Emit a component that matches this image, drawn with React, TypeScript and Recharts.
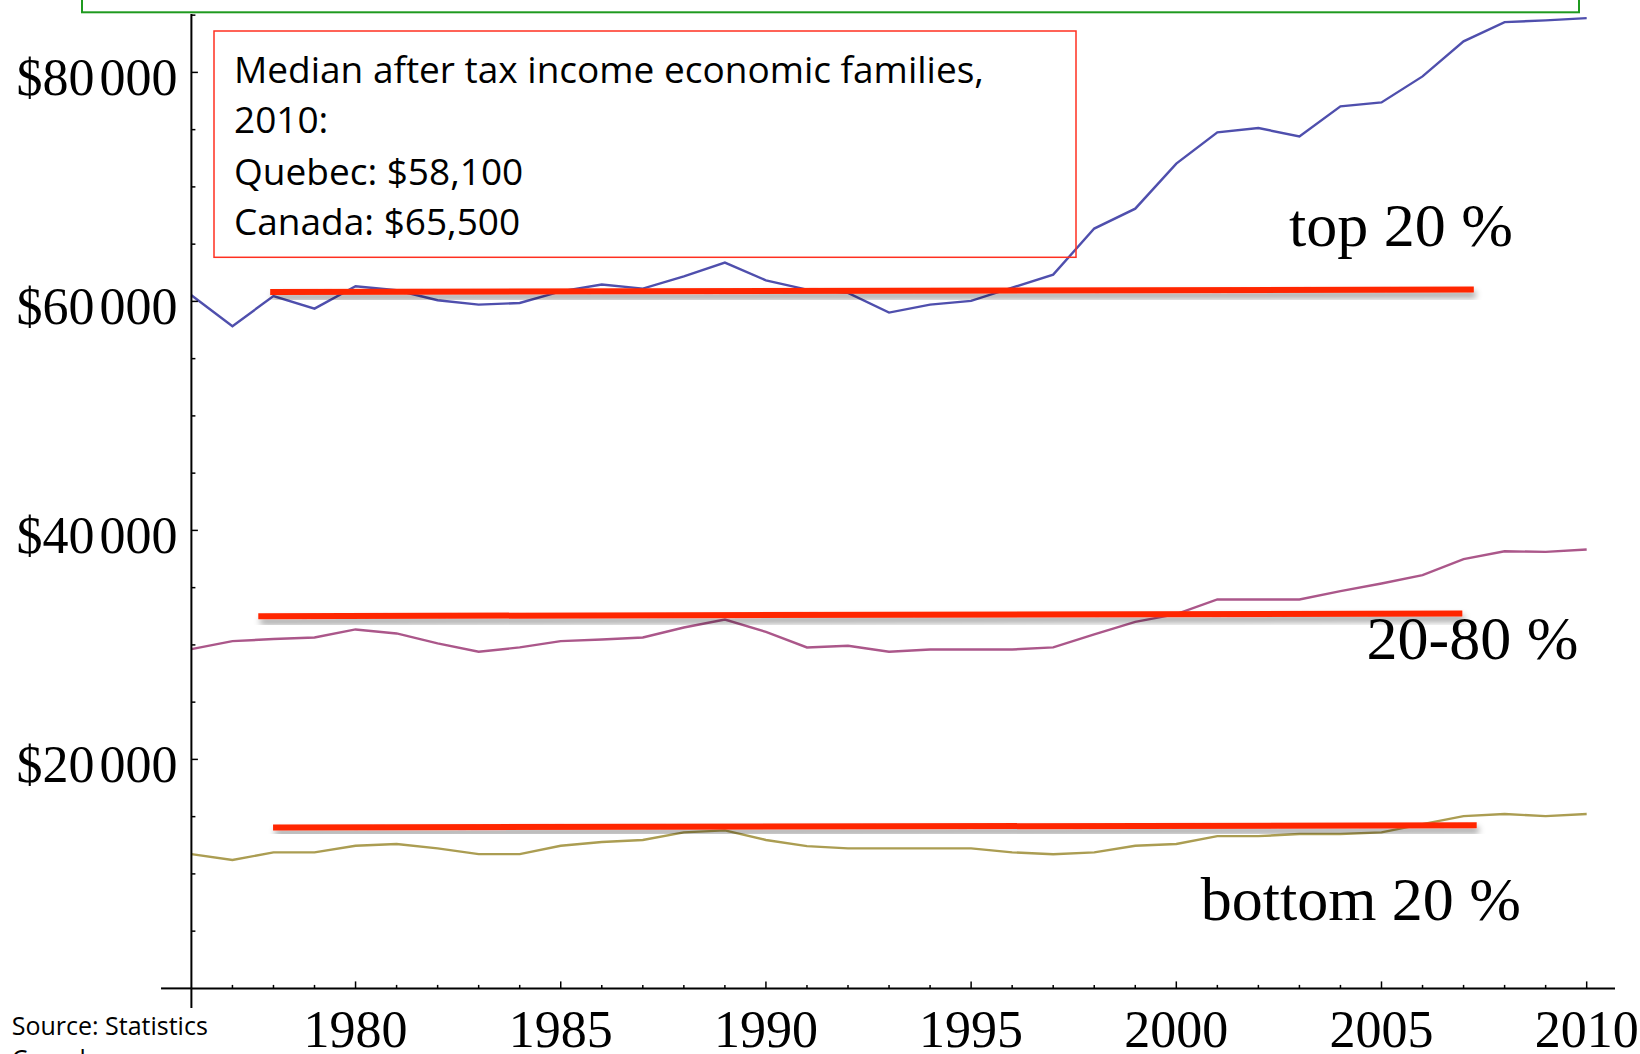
import { Line, LineChart, ReferenceLine, XAxis, YAxis } from 'recharts'

const years = [
  1976, 1977, 1978, 1979, 1980, 1981, 1982, 1983, 1984, 1985, 1986, 1987, 1988, 1989, 1990, 1991, 1992, 1993,
  1994, 1995, 1996, 1997, 1998, 1999, 2000, 2001, 2002, 2003, 2004, 2005, 2006, 2007, 2008, 2009, 2010,
]

// after tax income by quintile group, Quebec
const top20 = [
  60530, 57830, 60470, 59370, 61320, 60970, 60100, 59720, 59860, 60880, 61470, 61120, 62190, 63390, 61840, 61030,
  60740, 59020, 59720, 60040, 61200, 62340, 66360, 68100, 72030, 74760, 75140, 74410, 77030, 77380, 79650, 82710,
  84390, 84540, 84740,
]
const middle60 = [
  29630, 30330, 30510, 30650, 31350, 31000, 30130, 29400, 29780, 30330, 30470, 30650, 31520, 32220, 31140, 29780,
  29920, 29400, 29600, 29600, 29600, 29780, 30910, 32010, 32690, 33970, 33970, 33970, 34690, 35360, 36090, 37490,
  38180, 38120, 38330,
]
const bottom20 = [
  11730, 11210, 11880, 11880, 12460, 12610, 12230, 11730, 11730, 12460, 12780, 12960, 13630, 13800, 12960, 12430,
  12230, 12230, 12230, 12230, 11880, 11710, 11880, 12460, 12610, 13300, 13300, 13480, 13480, 13630, 14350, 15050,
  15230, 15050, 15230,
]

// hand drawn red "average" bars
const topBar = [
  { year: 1977.92, value: 60820 },
  { year: 2007.25, value: 61030 },
]
const middleBar = [
  { year: 1977.63, value: 32510 },
  { year: 2006.97, value: 32740 },
]
const bottomBar = [
  { year: 1977.99, value: 14060 },
  { year: 2007.32, value: 14240 },
]

const xTicks = [
  1977, 1978, 1979, 1980, 1981, 1982, 1983, 1984, 1985, 1986, 1987, 1988, 1989, 1990, 1991, 1992, 1993, 1994,
  1995, 1996, 1997, 1998, 1999, 2000, 2001, 2002, 2003, 2004, 2005, 2006, 2007, 2008, 2009, 2010,
]
const xLabels: Record<number, string> = { 1980: '1980', 1985: '1985', 1990: '1990', 1995: '1995', 2000: '2000', 2005: '2005', 2010: '2010' }
const yTicks = [5000, 10000, 15000, 20000, 25000, 30000, 35000, 40000, 45000, 50000, 55000, 60000, 65000, 70000, 75000, 80000, 85000]
const yLabels: Record<number, [string, string]> = {
  20000: ['$20', '000'],
  40000: ['$40', '000'],
  60000: ['$60', '000'],
  80000: ['$80', '000'],
}

const boxLines = ['Median after tax income economic families,', '2010:', 'Quebec: $58,100', 'Canada: $65,500']

const rows = years.map((year, i) => ({ year, top: top20[i], middle: middle60[i], bottom: bottom20[i] }))

const serif = '"Liberation Serif", "Times New Roman", serif'
const sans = '"Open Sans", "Noto Sans", sans-serif'

function XTick({ x, y, payload }: any) {
  const label = xLabels[payload.value]
  return (
    <g>
      <line x1={x} x2={x} y1={y} y2={y - (label ? 7 : 3.5)} stroke="#000" strokeWidth={1.5} />
      {label && (
        <text x={x} y={y + 59} textAnchor="middle" fontFamily={serif} fontSize={52} fill="#000">
          {label}
        </text>
      )}
    </g>
  )
}

function YTick({ x, y, payload }: any) {
  const label = yLabels[payload.value]
  return (
    <g>
      <line x1={x} x2={x + (label ? 6.5 : 4)} y1={y} y2={y} stroke="#000" strokeWidth={1.5} />
      {label && (
        <text x={x - 14} y={y + 22.5} textAnchor="end" fontFamily={serif} fontSize={52} fill="#000">
          {label[0]}
          <tspan dx={5}>{label[1]}</tspan>
        </text>
      )}
    </g>
  )
}

export default function App() {
  return (
    <div style={{ position: 'absolute', left: 0, top: 0, width: 1640, height: 1054, background: '#fff' }}>
      <LineChart width={1640} height={1054} data={rows} margin={{ top: 14, right: 25, bottom: 35.6, left: 131.4 }}>
        <XAxis
          dataKey="year"
          type="number"
          domain={[1976, 2010.69]}
          ticks={xTicks}
          interval={0}
          tick={<XTick />}
          tickLine={false}
          tickSize={0}
          tickMargin={0}
          height={30}
          axisLine={{ stroke: '#000', strokeWidth: 2 }}
        />
        <YAxis
          type="number"
          domain={[0, 85100]}
          ticks={yTicks}
          interval={0}
          tick={<YTick />}
          tickLine={false}
          tickSize={0}
          tickMargin={0}
          width={60}
          axisLine={{ stroke: '#000', strokeWidth: 2 }}
        />
        <ReferenceLine
          segment={[{ x: 1975.26, y: 0 }, { x: 1976, y: 0 }]}
          stroke="#000"
          strokeWidth={2}
          ifOverflow="visible"
        />
        <ReferenceLine
          segment={[{ x: 1976, y: 0 }, { x: 1976, y: -1711 }]}
          stroke="#000"
          strokeWidth={2}
          ifOverflow="visible"
        />
        <Line dataKey="top" stroke="#4f4fad" strokeWidth={2.4} dot={false} type="linear" isAnimationActive={false} />
        <Line dataKey="middle" stroke="#ab578a" strokeWidth={2.4} dot={false} type="linear" isAnimationActive={false} />
        <Line dataKey="bottom" stroke="#ab9d52" strokeWidth={2.4} dot={false} type="linear" isAnimationActive={false} />
        <Line data={topBar} dataKey="value" stroke="#ff2600" strokeWidth={6} dot={false} type="linear" filter="url(#barShadow)" isAnimationActive={false} />
        <Line data={middleBar} dataKey="value" stroke="#ff2600" strokeWidth={6} dot={false} type="linear" filter="url(#barShadow)" isAnimationActive={false} />
        <Line data={bottomBar} dataKey="value" stroke="#ff2600" strokeWidth={6} dot={false} type="linear" filter="url(#barShadow)" isAnimationActive={false} />
      </LineChart>

      <svg width={1640} height={1054} style={{ position: 'absolute', left: 0, top: 0, pointerEvents: 'none' }}>
        <defs>
          <filter id="barShadow" x="-5%" y="-300%" width="110%" height="700%">
            <feDropShadow dx={2} dy={5} stdDeviation={3} floodColor="#000" floodOpacity={0.4} />
          </filter>
        </defs>
        <rect x={82} y={-10} width={1497} height={22.3} fill="none" stroke="#1f9a1f" strokeWidth={2} />
        <rect x={214} y={31} width={862} height={226.3} fill="none" stroke="#ff3020" strokeWidth={1.5} />
        {boxLines.map((line, i) => (
          <text key={line} x={234} y={[83.3, 133.3, 185, 235][i]} fontFamily={sans} fontSize={37} fill="#000">
            {line}
          </text>
        ))}
        <text x={1289} y={246} fontFamily={serif} fontSize={62} fill="#000">
          top 20 %
        </text>
        <text x={1366.5} y={659.3} fontFamily={serif} fontSize={62} fill="#000">
          20-80 %
        </text>
        <text x={1200.7} y={920} fontFamily={serif} fontSize={62} fill="#000">
          bottom 20 %
        </text>
        <text x={11.7} y={1035} fontFamily={sans} fontSize={25} fill="#000">
          Source: Statistics
        </text>
        <text x={11.7} y={1068} fontFamily={sans} fontSize={25} fill="#000">
          Canada
        </text>
      </svg>
    </div>
  )
}
